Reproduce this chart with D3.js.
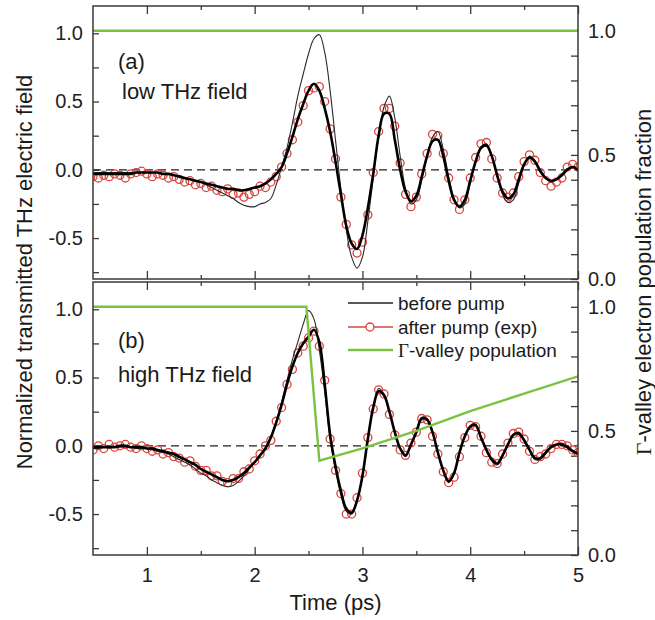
<!DOCTYPE html>
<html><head><meta charset="utf-8">
<script src="https://cdn.jsdelivr.net/npm/d3@7"></script>
<style>
html,body{margin:0;padding:0;background:#fff;}
svg{display:block;font-family:"Liberation Sans",Arial,sans-serif;}
</style></head>
<body>
<svg id="chart" width="655" height="620"></svg>
<script>
// ---------------- DATA ----------------
const times = [0.50,0.55,0.60,0.65,0.70,0.75,0.80,0.85,0.90,0.95,
1.00,1.05,1.10,1.15,1.20,1.25,1.30,1.35,1.40,1.45,
1.50,1.55,1.60,1.65,1.70,1.75,1.80,1.85,1.90,1.95,
2.00,2.05,2.10,2.15,2.20,2.25,2.30,2.35,2.40,2.45,
2.50,2.55,2.60,2.65,2.70,2.75,2.80,2.85,2.90,2.95,
3.00,3.05,3.10,3.15,3.20,3.25,3.30,3.35,3.40,3.45,
3.50,3.55,3.60,3.65,3.70,3.75,3.80,3.85,3.90,3.95,
4.00,4.05,4.10,4.15,4.20,4.25,4.30,4.35,4.40,4.45,
4.50,4.55,4.60,4.65,4.70,4.75,4.80,4.85,4.90,4.95,5.00];

// panel (a) low THz field
const beforeA = [-0.02,-0.02,-0.02,-0.02,-0.02,-0.02,-0.02,-0.02,-0.02,-0.02,
-0.02,-0.02,-0.02,-0.03,-0.03,-0.04,-0.05,-0.06,-0.07,-0.08,
-0.09,-0.11,-0.13,-0.15,-0.17,-0.19,-0.21,-0.24,-0.26,-0.27,
-0.27,-0.25,-0.24,-0.21,-0.11,0.02,0.16,0.34,0.54,0.70,
0.85,0.96,0.99,0.86,0.58,0.22,-0.14,-0.44,-0.64,-0.72,
-0.64,-0.38,-0.06,0.24,0.46,0.54,0.38,0.10,-0.14,-0.25,
-0.22,-0.08,0.10,0.24,0.28,0.15,-0.05,-0.21,-0.28,-0.25,
-0.10,0.06,0.17,0.19,0.10,-0.05,-0.18,-0.24,-0.22,-0.10,
0.03,0.10,0.07,0.00,-0.06,-0.09,-0.07,-0.03,0.01,0.02,-0.01];
const simA = [-0.03,-0.03,-0.03,-0.03,-0.03,-0.03,-0.03,-0.03,-0.02,-0.02,
-0.02,-0.02,-0.02,-0.03,-0.03,-0.04,-0.05,-0.06,-0.07,-0.08,
-0.09,-0.10,-0.11,-0.12,-0.13,-0.14,-0.14,-0.15,-0.15,-0.14,
-0.13,-0.12,-0.10,-0.07,-0.03,0.02,0.12,0.24,0.37,0.48,
0.58,0.63,0.58,0.45,0.28,0.06,-0.18,-0.41,-0.54,-0.58,
-0.48,-0.28,-0.03,0.25,0.41,0.41,0.22,0.00,-0.16,-0.23,
-0.19,-0.05,0.10,0.21,0.22,0.10,-0.08,-0.22,-0.27,-0.22,
-0.08,0.06,0.16,0.18,0.10,-0.04,-0.16,-0.21,-0.18,-0.07,
0.04,0.09,0.06,-0.01,-0.06,-0.08,-0.07,-0.04,0.00,0.02,0.00];
const expA = [-0.05,-0.06,-0.04,-0.05,-0.03,-0.04,-0.06,-0.03,-0.02,-0.01,
-0.03,-0.05,-0.03,-0.04,-0.06,-0.05,-0.07,-0.09,-0.08,-0.11,
-0.10,-0.13,-0.12,-0.15,-0.16,-0.14,-0.18,-0.17,-0.20,-0.18,
-0.16,-0.12,-0.13,-0.09,-0.05,0.02,0.12,0.22,0.35,0.47,
0.58,0.60,0.61,0.50,0.30,0.08,-0.20,-0.40,-0.55,-0.61,
-0.53,-0.33,-0.02,0.28,0.45,0.45,0.32,0.05,-0.18,-0.27,
-0.20,-0.03,0.12,0.26,0.25,0.12,-0.06,-0.22,-0.29,-0.22,
-0.06,0.09,0.19,0.20,0.08,-0.06,-0.17,-0.20,-0.17,-0.05,
0.06,0.11,0.07,-0.02,-0.08,-0.12,-0.09,-0.06,0.02,0.04,0.02];
const gammaTimesA = [0.5, 5.0];
const gammaA = [1.0, 1.0];

// panel (b) high THz field
const beforeB = [-0.02,-0.02,-0.01,-0.01,-0.01,-0.01,-0.01,-0.01,-0.02,-0.02,
-0.02,-0.03,-0.04,-0.05,-0.06,-0.08,-0.10,-0.12,-0.14,-0.17,
-0.20,-0.22,-0.25,-0.27,-0.29,-0.30,-0.29,-0.26,-0.22,-0.17,
-0.12,-0.07,-0.01,0.07,0.18,0.32,0.48,0.63,0.76,0.89,
0.99,0.93,0.70,0.40,0.05,-0.18,-0.36,-0.48,-0.50,-0.41,
-0.22,0.05,0.29,0.42,0.38,0.25,0.10,-0.02,-0.08,0.00,
0.11,0.21,0.20,0.10,-0.05,-0.19,-0.27,-0.21,-0.06,0.07,
0.15,0.16,0.07,-0.03,-0.11,-0.14,-0.08,0.01,0.08,0.10,
0.05,-0.03,-0.10,-0.10,-0.06,-0.01,0.01,0.02,0.00,-0.03,-0.05];
const simB = [-0.01,-0.01,-0.01,-0.01,-0.01,0.00,0.00,-0.01,-0.01,-0.01,
-0.02,-0.02,-0.03,-0.04,-0.05,-0.06,-0.08,-0.10,-0.12,-0.14,
-0.17,-0.19,-0.21,-0.23,-0.25,-0.26,-0.25,-0.23,-0.20,-0.16,
-0.12,-0.07,-0.02,0.06,0.17,0.30,0.45,0.58,0.68,0.75,
0.80,0.85,0.76,0.45,0.08,-0.15,-0.33,-0.46,-0.49,-0.40,
-0.22,0.05,0.28,0.40,0.37,0.25,0.10,-0.02,-0.07,0.01,
0.10,0.20,0.19,0.10,-0.05,-0.18,-0.26,-0.20,-0.05,0.07,
0.14,0.15,0.06,-0.03,-0.10,-0.13,-0.07,0.01,0.08,0.09,
0.04,-0.03,-0.09,-0.09,-0.05,-0.01,0.01,0.01,-0.01,-0.04,-0.06];
const expB = [-0.03,0.00,-0.02,0.01,-0.01,0.00,0.01,-0.01,-0.02,0.00,
-0.02,-0.04,-0.03,-0.06,-0.05,-0.08,-0.09,-0.12,-0.11,-0.15,
-0.18,-0.18,-0.22,-0.22,-0.26,-0.27,-0.24,-0.24,-0.19,-0.17,
-0.11,-0.06,0.00,0.04,0.18,0.28,0.45,0.56,0.68,0.73,
0.79,0.84,0.73,0.48,0.05,-0.18,-0.35,-0.50,-0.50,-0.38,
-0.20,0.06,0.27,0.41,0.38,0.23,0.08,-0.03,-0.07,0.02,
0.10,0.20,0.19,0.07,-0.06,-0.19,-0.27,-0.23,-0.08,0.06,
0.15,0.14,0.07,-0.05,-0.12,-0.13,-0.06,0.02,0.09,0.10,
0.05,-0.04,-0.10,-0.08,-0.06,-0.02,0.01,0.01,0.00,-0.03,-0.05];
const gammaTimesB = [0.5, 2.48, 2.60, 3.0, 3.5, 4.0, 4.5, 5.0];
const gammaB = [1.0, 1.0, 0.38, 0.43, 0.50, 0.58, 0.65, 0.72];

// axes / ticks
const xMajorTicks = [1, 2, 3, 4, 5];
const xMinorTicks = [1.5, 2.5, 3.5, 4.5];
const leftMajorTicks = [-0.5, 0.0, 0.5, 1.0];
const leftTickLabels = ["-0.5", "0.0", "0.5", "1.0"];
const leftMinorTicks = [-0.75, -0.25, 0.25, 0.75];
const rightMajorTicks = [0.0, 0.5, 1.0];
const rightTickLabels = ["0.0", "0.5", "1.0"];
const rightMinorTicks = [0.1, 0.2, 0.3, 0.4, 0.6, 0.7, 0.8, 0.9];
const panelLabels = ["(a)", "(b)"];
const panelNames = ["low THz field", "high THz field"];
const legendLabels = ["before pump", "after pump (exp)", "-valley population"];

// ---------------- DRAW ----------------
const svg = d3.select("#chart");
const x = d3.scaleLinear().domain([0.5, 5]).range([93, 578]);
const GREEN = "#7cc242", RED = "#d8453e", INK = "#1a1a1a", FRAME = "#3a3a3a";

const panels = [
  {top: 6, bottom: 279, before: beforeA, sim: simA, exp: expA, gT: gammaTimesA, g: gammaA, lab: [118, 69, 99]},
  {top: 282, bottom: 555, before: beforeB, sim: simB, exp: expB, gT: gammaTimesB, g: gammaB, lab: [118, 348, 382]}
];

panels.forEach((p, pi) => {
  const yL = d3.scaleLinear().domain([-0.8, 1.2]).range([p.bottom, p.top]);
  const yR = d3.scaleLinear().domain([0, 1.1]).range([p.bottom, p.top]);
  const g = svg.append("g");

  // axes
  const styleAxis = sel => {
    sel.select(".domain").remove();
    sel.selectAll("line").attr("stroke", FRAME).attr("stroke-width", 1.3);
    sel.selectAll("text").attr("font-size", 20).attr("fill", "#222").attr("font-family", "Liberation Sans, Arial, sans-serif");
  };
  g.append("g").attr("transform", `translate(${x.range()[0]},0)`)
    .call(d3.axisLeft(yL).tickValues(leftMajorTicks).tickSize(-6).tickPadding(10)
      .tickFormat((d, i) => leftTickLabels[i])).call(styleAxis);
  g.append("g").attr("transform", `translate(${x.range()[0]},0)`)
    .call(d3.axisLeft(yL).tickValues(leftMinorTicks).tickSize(-6).tickFormat("")).call(styleAxis);
  g.append("g").attr("transform", `translate(${x.range()[1]},0)`)
    .call(d3.axisRight(yR).tickValues(rightMajorTicks).tickSize(-7).tickPadding(10)
      .tickFormat((d, i) => rightTickLabels[i])).call(styleAxis);
  g.append("g").attr("transform", `translate(${x.range()[1]},0)`)
    .call(d3.axisRight(yR).tickValues(rightMinorTicks).tickSize(-7).tickFormat("")).call(styleAxis);
  g.append("g").attr("transform", `translate(0,${p.top})`)
    .call(d3.axisTop(x).tickValues(xMajorTicks).tickSize(-8).tickFormat("")).call(styleAxis);
  g.append("g").attr("transform", `translate(0,${p.top})`)
    .call(d3.axisTop(x).tickValues(xMinorTicks).tickSize(-4).tickFormat("")).call(styleAxis);
  g.append("g").attr("transform", `translate(0,${p.bottom})`)
    .call(d3.axisBottom(x).tickValues(xMajorTicks).tickSize(-8).tickPadding(13)
      .tickFormat(pi === 1 ? d3.format("d") : "")).call(styleAxis);
  g.append("g").attr("transform", `translate(0,${p.bottom})`)
    .call(d3.axisBottom(x).tickValues(xMinorTicks).tickSize(-4).tickFormat("")).call(styleAxis);

  // zero line
  g.append("line").attr("x1", x(0.5)).attr("x2", x(5)).attr("y1", yL(0)).attr("y2", yL(0))
    .attr("stroke", "#222").attr("stroke-width", 1.3).attr("stroke-dasharray", "8,5");

  const clipId = "clip" + pi;
  svg.append("clipPath").attr("id", clipId).append("rect")
    .attr("x", x(0.5)).attr("y", p.top).attr("width", x(5) - x(0.5)).attr("height", p.bottom - p.top);
  const plot = g.append("g").attr("clip-path", `url(#${clipId})`);

  const line = d3.line().x((d, i) => x(times[i])).y(d => yL(d)).curve(d3.curveCatmullRom.alpha(0.5));

  // exp circles
  plot.selectAll("circle.exp").data(p.exp).join("circle").attr("class", "exp")
    .attr("cx", (d, i) => x(times[i])).attr("cy", d => yL(d)).attr("r", 4)
    .attr("fill", "none").attr("stroke", RED).attr("stroke-width", 1.3);
  // before pump (thin)
  plot.append("path").datum(p.before).attr("d", line)
    .attr("fill", "none").attr("stroke", "#2a2a2a").attr("stroke-width", 1.1);
  // simulated after pump (thick)
  plot.append("path").datum(p.sim).attr("d", line)
    .attr("fill", "none").attr("stroke", "#000").attr("stroke-width", 2.6);
  // gamma valley population
  const gl = d3.line().x((d, i) => x(p.gT[i])).y(d => yR(d));
  plot.append("path").datum(p.g).attr("d", gl)
    .attr("fill", "none").attr("stroke", GREEN).attr("stroke-width", 2.4);

  // frame
  g.append("rect").attr("x", x(0.5)).attr("y", p.top).attr("width", x(5) - x(0.5)).attr("height", p.bottom - p.top)
    .attr("fill", "none").attr("stroke", FRAME).attr("stroke-width", 1.5);

  // panel labels
  g.append("text").attr("x", p.lab[0]).attr("y", p.lab[1]).attr("font-size", 22).attr("fill", INK).text(panelLabels[pi]);
  g.append("text").attr("x", p.lab[0] + (pi === 0 ? 4 : 0)).attr("y", p.lab[2]).attr("font-size", 22).attr("fill", INK).text(panelNames[pi]);
});

// legend in panel (b)
const legY = [303, 327, 350];
const lg = svg.append("g");
lg.append("line").attr("x1", 348).attr("x2", 393).attr("y1", legY[0]).attr("y2", legY[0]).attr("stroke", "#222").attr("stroke-width", 1.3);
lg.append("line").attr("x1", 348).attr("x2", 393).attr("y1", legY[1]).attr("y2", legY[1]).attr("stroke", RED).attr("stroke-width", 1.3);
lg.append("circle").attr("cx", 370).attr("cy", legY[1]).attr("r", 4).attr("fill", "#fff").attr("stroke", RED).attr("stroke-width", 1.3);
lg.append("line").attr("x1", 348).attr("x2", 393).attr("y1", legY[2]).attr("y2", legY[2]).attr("stroke", GREEN).attr("stroke-width", 2.4);
legendLabels.forEach((t, i) => {
  const tx = lg.append("text").attr("x", 398).attr("y", legY[i]).attr("dy", "0.35em").attr("font-size", 19).attr("fill", INK);
  if (i === 2) {
    tx.append("tspan").attr("font-family", "Liberation Serif, Times New Roman, serif").text("Γ");
    tx.append("tspan").text(t);
  } else tx.text(t);
});

// axis titles
svg.append("text").attr("x", x(2.75)).attr("y", 610).attr("text-anchor", "middle")
  .attr("font-size", 22).attr("fill", INK).text("Time (ps)");
svg.append("text").attr("transform", "translate(32,272) rotate(-90)").attr("text-anchor", "middle")
  .attr("font-size", 22).attr("fill", INK).text("Normalized transmitted THz electric field");
const rt = svg.append("text").attr("transform", "translate(651,282) rotate(-90)").attr("text-anchor", "middle")
  .attr("font-size", 22).attr("fill", INK);
rt.append("tspan").attr("font-family", "Liberation Serif, Times New Roman, serif").text("Γ");
rt.append("tspan").text("-valley electron population fraction");
</script>
</body></html>
